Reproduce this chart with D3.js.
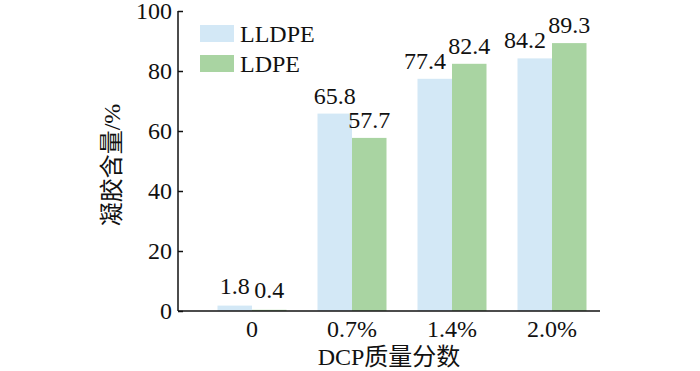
<!DOCTYPE html>
<html>
<head>
<meta charset="utf-8">
<script src="https://cdn.jsdelivr.net/npm/d3@7"></script>
<style>
body{margin:0;background:#fff;}
text{font-family:"Liberation Serif","Noto Sans CJK SC",serif;fill:#111;}
</style>
</head>
<body>
<div id="container"></div>
<script>
var categories=['0','0.7%','1.4%','2.0%'];
var seriesNames=['LLDPE','LDPE'];
var lldpeValues=[1.8,65.8,77.4,84.2];
var ldpeValues=[0.4,57.7,82.4,89.3];
var yTicks=[0,20,40,60,80,100];
var colors=['#d3e8f6','#a9d4a2'];

var width=700;
var height=371;
var plotLeft=178, plotRight=600, plotTop=11, plotBottom=311;

var svg=d3.select('#container')
    .append('svg')
    .attr('width',width)
    .attr('height',height)
    .style('background-color','white');

var yScale=d3.scaleLinear()
    .domain([0,100])
    .range([plotBottom,plotTop]);

var xScale=d3.scaleBand()
    .domain(categories)
    .range([202,602])
    .paddingInner(0.31)
    .paddingOuter(0.155);

var subScale=d3.scaleBand()
    .domain(seriesNames)
    .range([0,xScale.bandwidth()]);

var data=[];
categories.forEach(function(c,i){
    data.push({cat:c,series:'LLDPE',value:lldpeValues[i],other:ldpeValues[i]});
    data.push({cat:c,series:'LDPE',value:ldpeValues[i],other:lldpeValues[i]});
});

var g=svg.append('g');

g.selectAll('rect.bar')
    .data(data)
    .enter()
    .append('rect')
    .attr('class','bar')
    .attr('x',(d)=>xScale(d.cat)+subScale(d.series))
    .attr('width',subScale.bandwidth())
    .attr('y',(d)=>yScale(d.value))
    .attr('height',(d)=>plotBottom-yScale(d.value))
    .attr('fill',(d)=>colors[seriesNames.indexOf(d.series)]);

// left label gets pushed left when its neighbour is taller
function pushLeft(d){
    return d.series==='LLDPE' && d.other>d.value && d.value>10;
}
g.selectAll('text.val')
    .data(data)
    .enter()
    .append('text')
    .attr('class','val')
    .attr('x',(d)=>{
        var x0=xScale(d.cat)+subScale(d.series);
        return pushLeft(d) ? x0+subScale.bandwidth()-6 : x0+subScale.bandwidth()/2;
    })
    .attr('y',(d)=>yScale(d.value)-(d.value<10?12:10))
    .attr('text-anchor',(d)=>pushLeft(d)?'end':'middle')
    .style('font-size','24px')
    .text((d)=>d.value.toFixed(1));

// y axis, ticks pointing inward
var y_axis=d3.axisRight(yScale)
    .tickValues(yTicks)
    .tickSize(5)
    .tickFormat('');
g.append('g')
    .attr('transform','translate('+plotLeft+',0)')
    .call(y_axis)
    .call(a=>a.select('.domain').attr('d','M0,'+plotTop+'V'+plotBottom).attr('stroke','#111').attr('stroke-width',1.5))
    .call(a=>a.selectAll('.tick line').attr('stroke','#111').attr('stroke-width',1.5));

g.selectAll('text.ytick')
    .data(yTicks)
    .enter()
    .append('text')
    .attr('class','ytick')
    .attr('x',plotLeft-6)
    .attr('y',(d)=>yScale(d))
    .attr('dy','0.35em')
    .attr('text-anchor','end')
    .style('font-size','24px')
    .text((d)=>d);

// x axis
var x_axis=d3.axisBottom(xScale).tickSize(0).tickFormat('');
g.append('g')
    .attr('transform','translate(0,'+plotBottom+')')
    .call(x_axis)
    .call(a=>a.select('.domain').attr('d','M'+plotLeft+',0H'+plotRight).attr('stroke','#111').attr('stroke-width',1.5));

g.selectAll('text.xtick')
    .data(categories)
    .enter()
    .append('text')
    .attr('class','xtick')
    .attr('x',(d)=>xScale(d)+xScale.bandwidth()/2)
    .attr('y',337)
    .attr('text-anchor','middle')
    .style('font-size','24px')
    .text((d)=>d);

svg.append('text')
    .text('DCP质量分数')
    .attr('x',(plotLeft+plotRight)/2)
    .attr('y',365)
    .attr('text-anchor','middle')
    .style('font-size','24px');

svg.append('text')
    .text('凝胶含量/%')
    .attr('transform','translate(120,'+((plotTop+plotBottom)/2+4)+') rotate(-90)')
    .attr('text-anchor','middle')
    .style('font-size','24px');

// legend
var legend=svg.append('g')
    .selectAll('g')
    .data(seriesNames)
    .enter()
    .append('g')
    .attr('transform',(d,i)=>'translate(200,'+(25+i*30)+')');
legend.append('rect')
    .attr('width',34)
    .attr('height',17)
    .attr('fill',(d,i)=>colors[i]);
legend.append('text')
    .attr('x',40)
    .attr('y',17)
    .style('font-size','24px')
    .text((d)=>d);
</script>
</body>
</html>
